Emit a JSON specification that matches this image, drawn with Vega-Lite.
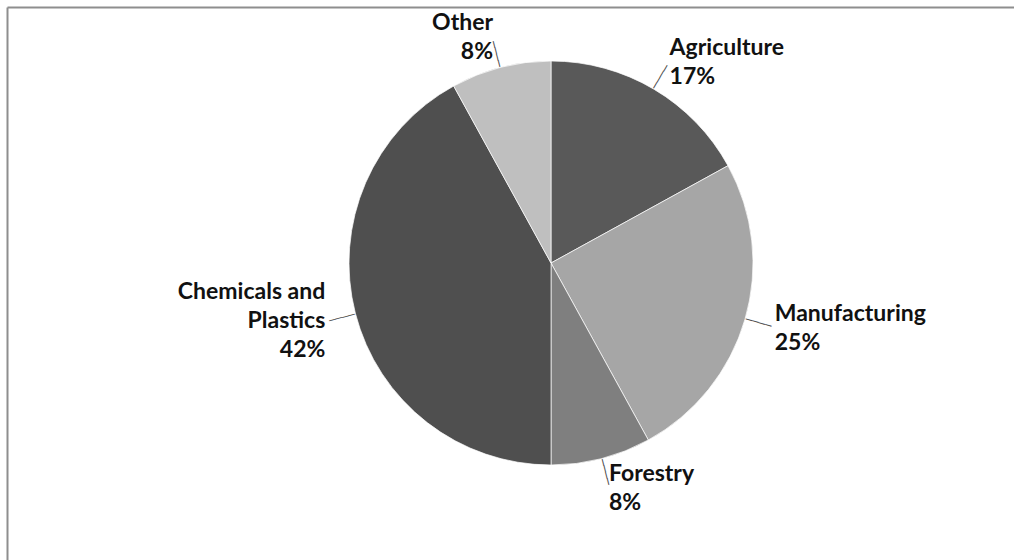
{
  "$schema": "https://vega.github.io/schema/vega-lite/v6.json",
  "width": 926,
  "height": 512,
  "autosize": {"type": "none"},
  "padding": {"left": 88, "top": 7, "right": 0, "bottom": 41},
  "background": "white",
  "config": {"view": {"stroke": null}},
  "data": {
    "values": [
      {"cat": "Agriculture", "name": "Agriculture", "value": 17, "rank": 1},
      {"cat": "Manufacturing", "name": "Manufacturing", "value": 25, "rank": 2},
      {"cat": "Forestry", "name": "Forestry", "value": 8, "rank": 3},
      {"cat": "Chemicals and Plastics", "name": "Chemicals and\nPlastics", "value": 42, "rank": 4},
      {"cat": "Other", "name": "Other", "value": 8, "rank": 5}
    ]
  },
  "layer": [
    {
      "mark": {"type": "point", "opacity": 0},
      "encoding": {
        "x": {"field": "value", "type": "quantitative", "scale": {"range": [-81, 926]},
              "axis": {"orient": "top", "domain": true, "domainColor": "#8e8e8e", "domainWidth": 2, "ticks": false, "labels": false, "grid": false, "title": null}},
        "y": {"field": "value", "type": "quantitative", "scale": {"range": [553, 0]},
              "axis": {"orient": "left", "offset": 81, "domain": true, "domainColor": "#8e8e8e", "domainWidth": 2, "ticks": false, "labels": false, "grid": false, "title": null}}
      }
    },
    {
      "mark": {"type": "arc", "outerRadius": 202, "stroke": "#ffffff", "strokeWidth": 0.7},
      "encoding": {
        "theta": {"field": "value", "type": "quantitative", "stack": true, "scale": {"domain": [0, 100]}},
        "order": {"field": "rank", "type": "quantitative"},
        "color": {"field": "cat", "type": "nominal", "legend": null,
                  "scale": {"domain": ["Agriculture", "Manufacturing", "Forestry", "Chemicals and Plastics", "Other"],
                            "range": ["#595959", "#a6a6a6", "#7f7f7f", "#4f4f4f", "#bfbfbf"]}}
      }
    },
    {
      "mark": {"type": "text", "text": "────", "font": "DejaVu Sans", "fontSize": 11, "color": "#4a4a4a", "radius": 216,
               "align": "center", "baseline": "middle",
               "angle": {"expr": "(datum.value_start + datum.value_end) * 1.8 - 90"}},
      "encoding": {
        "theta": {"field": "value", "type": "quantitative", "stack": true, "scale": {"domain": [0, 100]}},
        "order": {"field": "rank", "type": "quantitative"}
      }
    },
    {
      "mark": {"type": "text", "font": "Lato", "fontSize": 23, "fontWeight": "bold", "color": "#111111",
               "radius": 233, "lineBreak": "\n", "lineHeight": 29, "baseline": "middle",
               "text": {"expr": "datum.name + '\\n' + datum.value + '%'"},
               "dy": {"expr": "-length(split(datum.name, '\\n')) * 14.5"},
               "align": {"expr": "sin((datum.value_start + datum.value_end) * PI / 100) > 0 ? 'left' : 'right'"}},
      "encoding": {
        "theta": {"field": "value", "type": "quantitative", "stack": true, "scale": {"domain": [0, 100]}},
        "order": {"field": "rank", "type": "quantitative"}
      }
    }
  ]
}
